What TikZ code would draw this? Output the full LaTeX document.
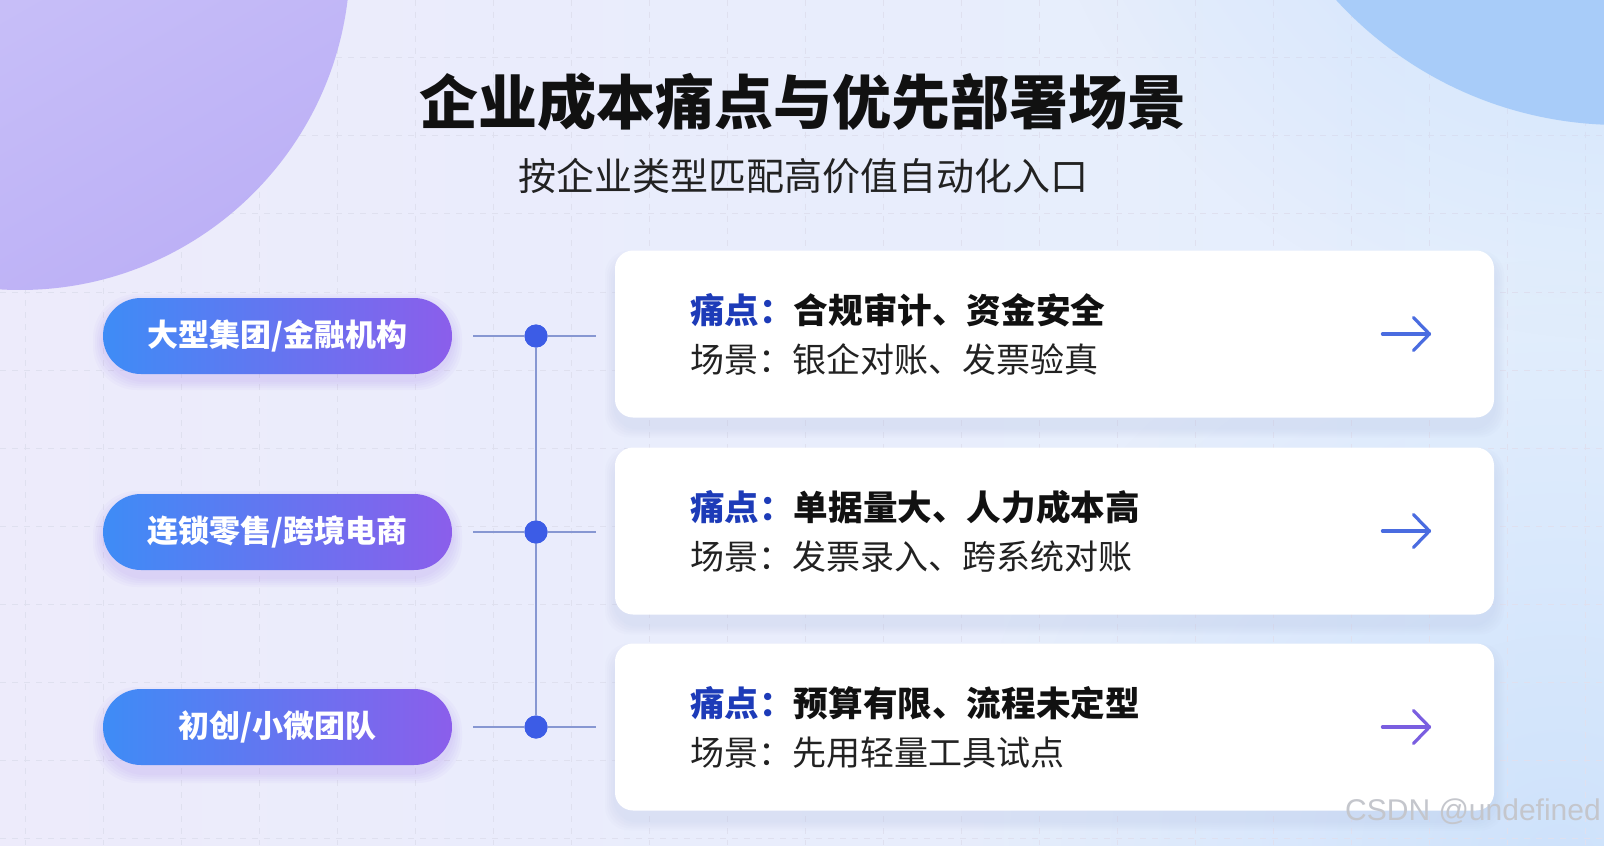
\documentclass[tikz,border=0pt]{standalone}
\usepackage{fontspec}
\setmainfont{Noto Sans CJK SC}
\newfontfamily\wmfont{Liberation Sans}
\usetikzlibrary{calc,fadings}
\tikzfading[name=softglow, inner color=transparent!0, outer color=transparent!100]
\definecolor{bgL}{HTML}{EDEBFB}
\definecolor{bgM}{HTML}{F6F7FE}
\definecolor{bgR}{HTML}{E4EFFD}
\definecolor{purpA}{HTML}{D3CEFB}
\definecolor{purpB}{HTML}{BDB1F6}
\definecolor{blueA}{HTML}{A8CCF9}
\definecolor{blueGlow}{HTML}{C9DFFB}
\definecolor{gridc}{HTML}{DFE0EF}
\definecolor{pillL}{HTML}{3E8CF6}
\definecolor{pillR}{HTML}{8B5EEB}
\definecolor{dotc}{HTML}{3C5CE6}
\definecolor{linec}{HTML}{8797D2}
\definecolor{painc}{HTML}{1D3BB8}
\definecolor{txtc}{HTML}{111111}
\definecolor{subc}{HTML}{222222}
\definecolor{arrB}{HTML}{4A6CE0}
\definecolor{arrP}{HTML}{7A5EE0}
\definecolor{shadc}{HTML}{9AA6D8}
\definecolor{wmc}{HTML}{C4C6CC}
\tikzset{
  pill/.style={rounded corners=19pt, minimum width=174.5pt, minimum height=38pt,
    left color=pillL, right color=pillR, text=white, inner sep=0pt,
    font=\fontsize{15.5pt}{18pt}\selectfont\bfseries},
  card/.style={rounded corners=9pt, fill=white, minimum width=439.5pt, minimum height=83.5pt, inner sep=0pt},
  dotn/.style={circle, fill=dotc, minimum size=11.5pt, inner sep=0pt},
  conn/.style={draw=linec, line width=0.9pt},
  line1/.style={anchor=west, font=\fontsize{17.3pt}{20pt}\selectfont\bfseries, text=txtc, inner sep=0pt},
  line2/.style={anchor=west, font=\fontsize{17pt}{20pt}\selectfont, text=subc, inner sep=0pt},
  arrowln/.style={line width=1.6pt, line cap=round, line join=round},
  gridln/.style={draw=gridc, line width=0.5pt, dash pattern=on 3pt off 3pt}
}
\begin{document}
\begin{tikzpicture}[x=0.5pt,y=-0.5pt]
\useasboundingbox (0,0) rectangle (1604,845);
\begin{scope}
\clip (0,0) rectangle (1604,845);
\shade[left color=bgL, middle color=bgM, right color=bgR] (0,0) rectangle (1604,845);
% bottom-right blue tint (soft)
\fill[blueGlow, path fading=softglow, opacity=0.8] (1560,860) circle [radius=300pt];
% grid
\foreach \gx in {25,103,181,259,337,415,493,571,649,727,805,883,961,1039,1117,1195,1273,1351,1429,1507,1585}
  \draw[gridln] (\gx,0) -- (\gx,845);
\foreach \gy in {58,136,214,292,370,448,526,604,682,760,838}
  \draw[gridln] (0,\gy) -- (1604,\gy);
% corner circles
\fill[blueGlow, path fading=softglow] (1620,-260) circle [radius=300pt];
\fill[blueA] (1620,-260) circle [radius=192.5pt];
\shade[top color=purpA, bottom color=purpB, shading angle=30] (20,-40) circle [radius=165pt];
\end{scope}

% title
\node[font=\fontsize{29.5pt}{34pt}\selectfont\bfseries, text=txtc] (title) at (803,102) {企业成本痛点与优先部署场景};
\node[font=\fontsize{19pt}{22pt}\selectfont, text=subc] (subtitle) at (803,176) {按企业类型匹配高价值自动化入口};

% shadows
\foreach \yy in {334,531,727}{
  \foreach \k in {1,...,5}{
    \fill[shadc, opacity=0.03, rounded corners=12pt] (615-2*\k,\yy-83.5+10-2*\k) rectangle (1494+2*\k,\yy+83.5+10+2*\k);
    \fill[pillR, opacity=0.035, rounded corners=22pt] (103-2*\k,\yy-38+8-2*\k) rectangle (452+2*\k,\yy+38+8+2*\k);
  }
}

% pills
\node[pill] (p1) at (277.5,336) {大型集团/金融机构};
\node[pill] (p2) at (277.5,532) {连锁零售/跨境电商};
\node[pill] (p3) at (277.5,727) {初创/小微团队};

% cards
\node[card] (c1) at (1054.5,334) {};
\node[card] (c2) at (1054.5,531) {};
\node[card] (c3) at (1054.5,727) {};

% dots and connectors
\node[dotn] (d1) at (536,336) {};
\node[dotn] (d2) at (536,532) {};
\node[dotn] (d3) at (536,727) {};
\draw[conn] (d1) -- (d3);
\draw[conn, shorten <=10.5pt] (p1.east) -- (d1);
\draw[conn, shorten >=9.5pt] (d1) -- (d1 -| c1.west);
\draw[conn, shorten <=10.5pt] (p2.east) -- (d2);
\draw[conn, shorten >=9.5pt] (d2) -- (d2 -| c2.west);
\draw[conn, shorten <=10.5pt] (p3.east) -- (d3);
\draw[conn, shorten >=9.5pt] (d3) -- (d3 -| c3.west);
\node[dotn] at (d1) {};
\node[dotn] at (d2) {};
\node[dotn] at (d3) {};

% card texts
\node[line1] (t1a) at ($(c1.west)+(75,-24)$) {\textcolor{painc}{痛点：}合规审计、资金安全};
\node[line2] (t1b) at ($(c1.west)+(75,26)$) {场景：银企对账、发票验真};
\node[line1] (t2a) at ($(c2.west)+(75,-24)$) {\textcolor{painc}{痛点：}单据量大、人力成本高};
\node[line2] (t2b) at ($(c2.west)+(75,26)$) {场景：发票录入、跨系统对账};
\node[line1] (t3a) at ($(c3.west)+(75,-24)$) {\textcolor{painc}{痛点：}预算有限、流程未定型};
\node[line2] (t3b) at ($(c3.west)+(75,26)$) {场景：先用轻量工具试点};

% arrows
\foreach \c/\col in {c1/arrB, c2/arrB, c3/arrP}{
  \coordinate (\c tip) at ($(\c.east)+(-65,0)$);
  \coordinate (\c tail) at ($(\c.east)+(-112,0)$);
  \draw[arrowln, draw=\col] (\c tail) -- (\c tip);
  \draw[arrowln, draw=\col] ($(\c tip)+(-16,-16.5)$) -- (\c tip) -- ($(\c tip)+(-16,16.5)$);
}

% watermark
\node[font=\wmfont\fontsize{15pt}{17pt}\selectfont, text=wmc] (wm) at (1473,812) {CSDN @undefined};
\end{tikzpicture}
\end{document}
